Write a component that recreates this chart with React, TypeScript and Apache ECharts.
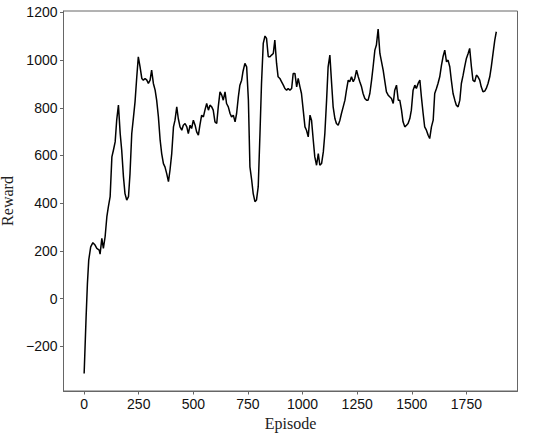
import React, { useEffect, useRef } from "react";
import * as echarts from "echarts";

const episodes: number[] = [
  0, 9, 15, 21, 30, 40, 50, 58, 69, 73, 81, 88, 96, 104, 111, 119, 127, 134, 142, 149,
  157, 165, 172, 180, 187, 195, 203, 210, 218, 226, 233, 241, 248, 256, 264, 271, 279, 287, 294, 302,
  309, 317, 325, 332, 340, 348, 355, 363, 370, 378, 386, 393, 401, 409, 416, 424, 431, 439, 447, 454,
  462, 470, 477, 485, 492, 500, 508, 515, 523, 530, 538, 546, 553, 561, 569, 576, 584, 591, 599, 607,
  614, 622, 630, 637, 645, 652, 660, 668, 675, 683, 691, 698, 706, 713, 721, 727, 736, 744, 752, 759,
  767, 774, 782, 789, 797, 805, 812, 820, 828, 835, 843, 851, 858, 866, 873, 881, 888, 896, 904, 912,
  919, 927, 934, 942, 950, 957, 965, 973, 980, 988, 995, 1003, 1011, 1018, 1026, 1034, 1041, 1049, 1056, 1064,
  1072, 1079, 1087, 1095, 1102, 1110, 1117, 1125, 1133, 1140, 1148, 1155, 1163, 1171, 1178, 1186, 1194, 1201, 1209, 1216,
  1224, 1232, 1239, 1247, 1255, 1262, 1270, 1277, 1285, 1293, 1300, 1308, 1316, 1323, 1331, 1338, 1346, 1354, 1360, 1369,
  1377, 1384, 1392, 1399, 1407, 1415, 1422, 1430, 1438, 1445, 1453, 1460, 1468, 1476, 1483, 1491, 1498, 1506, 1514, 1521,
  1529, 1537, 1544, 1552, 1559, 1567, 1575, 1582, 1590, 1598, 1605, 1613, 1620, 1628, 1636, 1643, 1651, 1659, 1666, 1674,
  1681, 1689, 1697, 1704, 1712, 1720, 1727, 1735, 1742, 1750, 1758, 1765, 1773, 1780, 1788, 1796, 1803, 1811, 1818, 1826,
  1834, 1841, 1849, 1857, 1864, 1872, 1880, 1887,
];

const rewards: number[] = [
  -315, -77, 63, 161, 217, 234, 224, 210, 203, 186, 252, 210, 259, 343, 385, 427, 594, 622, 657, 748,
  811, 692, 622, 510, 440, 413, 427, 524, 692, 762, 825, 930, 1014, 972, 923, 916, 923, 916, 902, 916,
  958, 902, 874, 832, 762, 664, 608, 566, 552, 524, 490, 538, 608, 720, 748, 804, 755, 720, 706, 727,
  734, 720, 692, 727, 713, 748, 727, 699, 685, 727, 769, 762, 790, 818, 790, 811, 804, 790, 741, 734,
  804, 867, 853, 832, 867, 818, 804, 776, 762, 769, 741, 776, 846, 895, 916, 951, 986, 972, 832, 552,
  497, 440, 406, 413, 469, 692, 902, 1070, 1101, 1091, 1014, 1014, 1021, 1028, 1084, 986, 930, 923, 909, 895,
  881, 874, 881, 874, 881, 944, 944, 888, 923, 888, 860, 790, 720, 706, 678, 769, 748, 664, 594, 559,
  608, 559, 566, 615, 692, 832, 972, 1021, 902, 804, 755, 734, 727, 748, 776, 804, 832, 874, 916, 909,
  930, 909, 923, 958, 930, 909, 888, 860, 839, 832, 832, 860, 916, 972, 1042, 1063, 1130, 1028, 1000, 958,
  909, 867, 853, 846, 839, 818, 874, 895, 832, 832, 790, 741, 720, 727, 734, 755, 790, 874, 895, 881,
  902, 916, 846, 776, 720, 706, 685, 671, 720, 748, 860, 881, 902, 930, 979, 1014, 1042, 993, 1000, 972,
  916, 860, 832, 811, 804, 832, 902, 937, 972, 1007, 1028, 1049, 972, 916, 909, 937, 930, 916, 888, 867,
  870, 881, 902, 930, 972, 1028, 1084, 1119,
];

const xTicks: number[] = [0, 250, 500, 750, 1000, 1250, 1500, 1750];
const yTicks: number[] = [-200, 0, 200, 400, 600, 800, 1000, 1200];

const fmt = (v: number) => String(v).replace("-", "\u2212");

export default function App() {
  const ref = useRef<HTMLDivElement>(null);
  useEffect(() => {
    document.body.style.margin = "0";
    if (!ref.current) return;
    const chart = echarts.init(ref.current, null, { renderer: "svg" });
    const data = episodes.map((e, i) => [e, rewards[i]]);
    const axisColor = "#666";
    chart.setOption({
      animation: false,
      backgroundColor: "#fff",
      grid: {
        left: 63.5,
        right: 32.5,
        top: 11,
        bottom: 46,
        show: true,
        borderColor: axisColor,
        borderWidth: 1,
        backgroundColor: "transparent",
        containLabel: false,
        outerBoundsMode: "none",
      },
      xAxis: {
        type: "value",
        min: -94.5,
        max: 1984,
        name: "Episode",
        nameLocation: "middle",
        nameGap: 19,
        nameTextStyle: { fontFamily: "Liberation Serif", fontSize: 16, color: "#222" },
        axisLine: { show: true, onZero: false, lineStyle: { color: axisColor, width: 1 } },
        axisTick: { show: true, length: 3.5, lineStyle: { color: axisColor }, customValues: xTicks },
        axisLabel: {
          customValues: xTicks,
          formatter: fmt,
          fontFamily: "Liberation Sans",
          fontSize: 14,
          color: "#111",
          margin: 6,
        },
        splitLine: { show: false },
      },
      yAxis: {
        type: "value",
        min: -388,
        max: 1206,
        name: "Reward",
        nameLocation: "middle",
        nameGap: 40,
        nameTextStyle: { fontFamily: "Liberation Serif", fontSize: 16, color: "#222" },
        axisLine: { show: true, onZero: false, lineStyle: { color: axisColor, width: 1 } },
        axisTick: { show: true, length: 3.5, lineStyle: { color: axisColor }, customValues: yTicks },
        axisLabel: {
          customValues: yTicks,
          formatter: fmt,
          fontFamily: "Liberation Sans",
          fontSize: 14,
          color: "#111",
          margin: 6,
        },
        splitLine: { show: false },
      },
      series: [
        {
          type: "line",
          data,
          symbol: "none",
          lineStyle: { color: "#000", width: 1.5 },
        },
      ],
    });
    return () => chart.dispose();
  }, []);
  return <div ref={ref} style={{ width: 550, height: 437 }} />;
}
